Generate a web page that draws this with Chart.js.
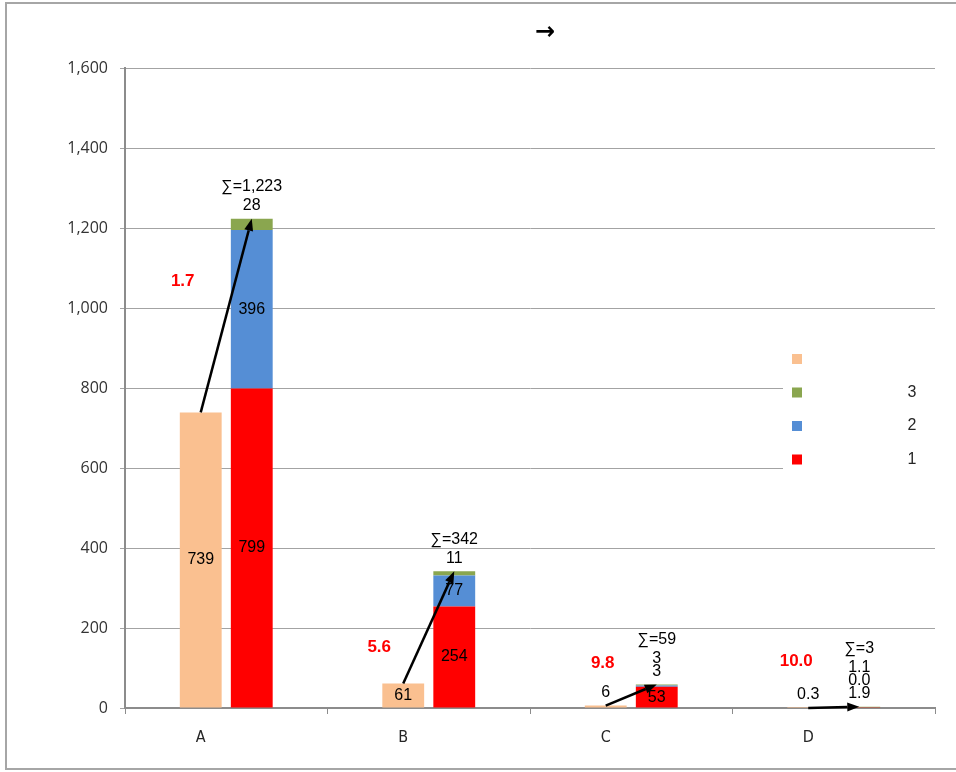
<!DOCTYPE html>
<html>
<head>
<meta charset="utf-8">
<script src="https://cdn.jsdelivr.net/npm/chart.js@4/dist/chart.umd.min.js"></script>
<style>
  html, body { margin: 0; padding: 0; background: #ffffff; }
  #wrap { width: 956px; height: 772px; position: relative; }
</style>
</head>
<body>
<div id="wrap"><canvas id="chart" width="956" height="772"></canvas></div>
<script>
// Categories and series
const categories = ['A', 'B', 'C', 'D'];
const baseValues = [739, 61, 6, 0.3];       // single bar (before)
const part1Values = [799, 254, 53, 1.9];    // stacked segment "1"
const part2Values = [396, 77, 3, 0.0];      // stacked segment "2"
const part3Values = [28, 11, 3, 1.1];       // stacked segment "3"
const labelDecimals = [0, 0, 0, 1];
const yTicks = [0, 200, 400, 600, 800, 1000, 1200, 1400, 1600];

// Where the red ratio labels sit: x offset (px) from the single bar, y in axis units
const ratioLabelPlacement = [
  { dx: -18, v: 1067 },
  { dx: -24, v: 152 },
  { dx: -3, v: 112 },
  { dx: -12, v: 117 }
];

const COLORS = {
  base: '#FAC090',
  p1: '#FF0000',
  p2: '#558ED5',
  p3: '#8AA64F',
  grid: '#a3a3a3',
  axis: '#8c8c8c',
  text: '#262626'
};

const NARROW = "'Liberation Sans Narrow', 'DejaVu Sans Condensed', 'Liberation Sans', sans-serif";
const SANS = "'Liberation Sans', Arial, sans-serif";

function fmt(v, d) {
  return v.toLocaleString('en-US', { minimumFractionDigits: d, maximumFractionDigits: d });
}

const annotations = {
  id: 'barAnnotations',
  beforeDraw(chart) {
    const ctx = chart.ctx;
    ctx.save();
    ctx.fillStyle = '#ffffff';
    ctx.fillRect(0, 0, chart.width, chart.height);
    // outer frame
    ctx.strokeStyle = '#a6a6a6';
    ctx.lineWidth = 2;
    ctx.strokeRect(6, 3, chart.width + 10, chart.height - 6);
    // title
    ctx.fillStyle = '#000000';
    ctx.font = "bold 24px 'DejaVu Sans', sans-serif";
    ctx.textAlign = 'center';
    ctx.textBaseline = 'middle';
    ctx.fillText('\u2192', 545, 33);
    ctx.restore();
  },
  afterDatasetsDraw(chart) {
    const ctx = chart.ctx;
    const yScale = chart.scales.y;
    const baseMeta = chart.getDatasetMeta(0);
    const stackMetas = [1, 2, 3].map(i => chart.getDatasetMeta(i));
    const stackData = [part1Values, part2Values, part3Values];

    ctx.save();
    ctx.textAlign = 'center';
    ctx.textBaseline = 'middle';

    const arrows = [];

    categories.forEach((cat, i) => {
      const d = labelDecimals[i];
      ctx.fillStyle = '#000000';
      ctx.font = '16px ' + SANS;

      // single bar value
      const b = baseMeta.data[i];
      const bh = b.base - b.y;
      const by = bh >= 18 ? (b.y + b.base) / 2 : b.y - 13;
      ctx.fillText(fmt(baseValues[i], d), b.x, by);

      // stacked segments: inside when tall enough, otherwise stacked above the top
      let top = Infinity;
      stackMetas.forEach(m => { top = Math.min(top, m.data[i].y); });
      let cursor = top;
      let sum = 0;
      stackMetas.forEach((m, k) => {
        const el = m.data[i];
        const v = stackData[k][i];
        sum += v;
        const h = el.base - el.y;
        let ty;
        if (h >= 18) {
          ty = (el.y + el.base) / 2;
        } else {
          cursor -= 13;
          ty = cursor;
        }
        ctx.fillText(fmt(v, d), el.x, ty);
      });
      cursor -= 19;
      ctx.fillText('\u2211=' + sum.toLocaleString('en-US', { maximumFractionDigits: 0 }), stackMetas[0].data[i].x, cursor);

      // growth ratio
      const p = ratioLabelPlacement[i];
      ctx.fillStyle = '#FF0000';
      ctx.font = 'bold 17px ' + SANS;
      ctx.fillText((sum / baseValues[i]).toFixed(1), b.x + p.dx, yScale.getPixelForValue(p.v));

      arrows.push({ x1: b.x, y1: b.y, x2: stackMetas[0].data[i].x, y2: top });
    });

    // arrows from the single bar to the stacked total
    ctx.strokeStyle = '#000000';
    ctx.fillStyle = '#000000';
    ctx.lineWidth = 2.5;
    arrows.forEach(a => {
      const ang = Math.atan2(a.y2 - a.y1, a.x2 - a.x1);
      const len = 12, hw = 4.5;
      const bx = a.x2 - len * Math.cos(ang);
      const byy = a.y2 - len * Math.sin(ang);
      ctx.beginPath();
      ctx.moveTo(a.x1, a.y1);
      ctx.lineTo(bx, byy);
      ctx.stroke();
      ctx.beginPath();
      ctx.moveTo(a.x2, a.y2);
      ctx.lineTo(bx + hw * Math.sin(ang), byy - hw * Math.cos(ang));
      ctx.lineTo(bx - hw * Math.sin(ang), byy + hw * Math.cos(ang));
      ctx.closePath();
      ctx.fill();
    });

    // legend box
    ctx.fillStyle = '#ffffff';
    ctx.fillRect(783, 336, 170, 144);
    const order = [0, 3, 2, 1];
    ctx.font = '16px ' + SANS;
    order.forEach((di, n) => {
      const ds = chart.data.datasets[di];
      const cy = 359 + n * 33.5;
      ctx.fillStyle = ds.backgroundColor;
      ctx.fillRect(792, cy - 5, 10, 10);
      ctx.fillStyle = COLORS.text;
      ctx.fillText(ds.label, 912, cy);
    });

    ctx.restore();
  }
};

Chart.defaults.font.family = SANS;
Chart.defaults.color = COLORS.text;

new Chart(document.getElementById('chart'), {
  type: 'bar',
  data: {
    labels: categories,
    datasets: [
      { label: '', data: baseValues, backgroundColor: COLORS.base, stack: 'before' },
      { label: '1', data: part1Values, backgroundColor: COLORS.p1, stack: 'after' },
      { label: '2', data: part2Values, backgroundColor: COLORS.p2, stack: 'after' },
      { label: '3', data: part3Values, backgroundColor: COLORS.p3, stack: 'after' }
    ]
  },
  options: {
    responsive: false,
    animation: false,
    categoryPercentage: 0.504,
    barPercentage: 0.82,
    layout: { padding: { left: 0, right: 21, top: 68, bottom: 0 } },
    plugins: {
      legend: { display: false },
      title: { display: false },
      tooltip: { enabled: false }
    },
    scales: {
      x: {
        afterFit(scale) { scale.height = 64; },
        grid: {
          display: true,
          drawOnChartArea: false,
          drawTicks: true,
          tickLength: 6,
          color: COLORS.axis,
          offset: true
        },
        border: { display: true, color: COLORS.axis, width: 2 },
        ticks: {
          padding: 14,
          labelOffset: -25.5,
          color: COLORS.text,
          font: { size: 16, family: NARROW }
        }
      },
      y: {
        stacked: true,
        min: 0,
        max: 1600,
        afterFit(scale) { scale.width = 125; },
        afterBuildTicks(scale) { scale.ticks = yTicks.map(v => ({ value: v })); },
        grid: {
          color: COLORS.grid,
          lineWidth: 1,
          drawTicks: true,
          tickLength: 5
        },
        border: { display: true, color: COLORS.axis, width: 2 },
        ticks: {
          padding: 12,
          color: '#333333',
          font: { size: 16, family: "'Open Sans', " + SANS },
          callback: v => v.toLocaleString('en-US')
        }
      }
    }
  },
  plugins: [annotations]
});
</script>
</body>
</html>
